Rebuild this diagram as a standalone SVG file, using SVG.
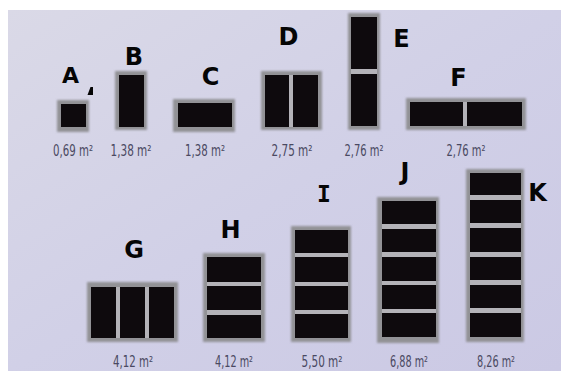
<svg xmlns="http://www.w3.org/2000/svg" width="561" height="371" viewBox="0 0 561 371">
<defs>
<linearGradient id="bg" x1="0" y1="0" x2="1" y2="1">
<stop offset="0" stop-color="#dad9e7"/>
<stop offset="0.5" stop-color="#d1d0e7"/>
<stop offset="1" stop-color="#cbc9e4"/>
</linearGradient>
<filter id="soft" x="-10%" y="-10%" width="120%" height="120%"><feGaussianBlur stdDeviation="0.9"/></filter>
</defs>
<style>
.frame{fill:#929296;filter:url(#soft)}
.pane{fill:#0e0a0d}
.gap{fill:#b4b3b8}
.ltr{font-family:"DejaVu Sans",Verdana,sans-serif;font-weight:bold;font-size:24px;fill:#050505;text-anchor:middle}
.ltrI{font-family:"DejaVu Sans Mono",monospace;font-weight:bold;font-size:23px;fill:#050505;text-anchor:middle}
.area{font-family:"Liberation Sans Narrow","DejaVu Sans Condensed",sans-serif;font-size:15px;fill:#4a4962;text-anchor:middle}
</style>
<rect x="0" y="0" width="561" height="371" fill="#ffffff"/>
<rect x="8" y="10" width="553" height="361" fill="url(#bg)"/>

<g id="A">
<rect class="frame" x="57" y="100" width="32" height="32"/>
<rect class="pane" x="61" y="104" width="25" height="23"/>
<text class="ltr" x="70.5" y="83" style="font-size:22px">A</text>
<polygon points="90.5,87 93,87 93,95 87.5,95" fill="#050505"/>
<text class="area" x="73" y="156" textLength="40" lengthAdjust="spacingAndGlyphs">0,69 m²</text>
</g>

<g id="B">
<rect class="frame" x="115" y="71" width="32" height="59"/>
<rect class="pane" x="119" y="75" width="25" height="52"/>
<text class="ltr" x="134" y="65">B</text>
<text class="area" x="131" y="156" textLength="41" lengthAdjust="spacingAndGlyphs">1,38 m²</text>
</g>

<g id="C">
<rect class="frame" x="173" y="99" width="62" height="33"/>
<rect class="pane" x="178" y="103" width="54" height="24"/>
<text class="ltr" x="210.5" y="85">C</text>
<text class="area" x="205" y="156" textLength="40" lengthAdjust="spacingAndGlyphs">1,38 m²</text>
</g>

<g id="D">
<rect class="frame" x="261" y="71" width="61" height="59"/>
<rect class="gap" x="289" y="75" width="4" height="52"/>
<rect class="pane" x="265" y="75" width="24" height="52"/>
<rect class="pane" x="293" y="75" width="25" height="52"/>
<text class="ltr" x="288.5" y="45">D</text>
<text class="area" x="292" y="156" textLength="41" lengthAdjust="spacingAndGlyphs">2,75 m²</text>
</g>

<g id="E">
<rect class="frame" x="348" y="13" width="32" height="117"/>
<rect class="gap" x="351" y="69" width="26" height="5"/>
<rect class="pane" x="351" y="17" width="26" height="52"/>
<rect class="pane" x="351" y="74" width="26" height="52"/>
<text class="ltr" x="401.5" y="47">E</text>
<text class="area" x="364" y="156" textLength="39" lengthAdjust="spacingAndGlyphs">2,76 m²</text>
</g>

<g id="F">
<rect class="frame" x="406" y="98" width="120" height="32"/>
<rect class="gap" x="463" y="102" width="4" height="24"/>
<rect class="pane" x="410" y="102" width="53" height="24"/>
<rect class="pane" x="467" y="102" width="55" height="24"/>
<text class="ltr" x="458.5" y="86">F</text>
<text class="area" x="466" y="156" textLength="39" lengthAdjust="spacingAndGlyphs">2,76 m²</text>
</g>

<g id="G">
<rect class="frame" x="87" y="282" width="91" height="60"/>
<rect class="gap" x="116" y="287" width="4" height="51"/>
<rect class="gap" x="145" y="287" width="4" height="51"/>
<rect class="pane" x="91" y="287" width="25" height="51"/>
<rect class="pane" x="120" y="287" width="25" height="51"/>
<rect class="pane" x="149" y="287" width="25" height="51"/>
<text class="ltr" x="134" y="258">G</text>
<text class="area" x="133" y="367" textLength="40" lengthAdjust="spacingAndGlyphs">4,12 m²</text>
</g>

<g id="H">
<rect class="frame" x="203" y="253" width="62" height="89"/>
<rect class="gap" x="207" y="282" width="54" height="4"/>
<rect class="gap" x="207" y="310" width="54" height="5"/>
<rect class="pane" x="207" y="257" width="54" height="25"/>
<rect class="pane" x="207" y="286" width="54" height="24"/>
<rect class="pane" x="207" y="315" width="54" height="23"/>
<text class="ltr" x="230.5" y="238">H</text>
<text class="area" x="234" y="367" textLength="38" lengthAdjust="spacingAndGlyphs">4,12 m²</text>
</g>

<g id="I">
<rect class="frame" x="291" y="226" width="60" height="116"/>
<rect class="gap" x="295" y="253" width="53" height="4"/>
<rect class="gap" x="295" y="282" width="53" height="4"/>
<rect class="gap" x="295" y="310" width="53" height="4"/>
<rect class="pane" x="295" y="230" width="53" height="23"/>
<rect class="pane" x="295" y="257" width="53" height="25"/>
<rect class="pane" x="295" y="286" width="53" height="24"/>
<rect class="pane" x="295" y="314" width="53" height="24"/>
<text class="ltrI" x="324" y="202">I</text>
<text class="area" x="322" y="367" textLength="41" lengthAdjust="spacingAndGlyphs">5,50 m²</text>
</g>

<g id="J">
<rect class="frame" x="377" y="197" width="62" height="146"/>
<rect class="gap" x="382" y="224" width="54" height="5"/>
<rect class="gap" x="382" y="252" width="54" height="5"/>
<rect class="gap" x="382" y="281" width="54" height="4"/>
<rect class="gap" x="382" y="309" width="54" height="4"/>
<rect class="pane" x="382" y="201" width="54" height="23"/>
<rect class="pane" x="382" y="229" width="54" height="23"/>
<rect class="pane" x="382" y="257" width="54" height="24"/>
<rect class="pane" x="382" y="285" width="54" height="24"/>
<rect class="pane" x="382" y="313" width="54" height="24"/>
<text class="ltr" x="405" y="180">J</text>
<text class="area" x="409" y="367" textLength="38" lengthAdjust="spacingAndGlyphs">6,88 m²</text>
</g>

<g id="K">
<rect class="frame" x="466" y="169" width="58" height="173"/>
<rect class="gap" x="470" y="195" width="51" height="5"/>
<rect class="gap" x="470" y="223" width="51" height="5"/>
<rect class="gap" x="470" y="252" width="51" height="5"/>
<rect class="gap" x="470" y="280" width="51" height="5"/>
<rect class="gap" x="470" y="308" width="51" height="5"/>
<rect class="pane" x="470" y="173" width="51" height="22"/>
<rect class="pane" x="470" y="200" width="51" height="23"/>
<rect class="pane" x="470" y="228" width="51" height="24"/>
<rect class="pane" x="470" y="257" width="51" height="23"/>
<rect class="pane" x="470" y="285" width="51" height="23"/>
<rect class="pane" x="470" y="313" width="51" height="24"/>
<text class="ltr" x="537.5" y="201">K</text>
<text class="area" x="496" y="367" textLength="38" lengthAdjust="spacingAndGlyphs">8,26 m²</text>
</g>

<g id="connectors"/>
</svg>
